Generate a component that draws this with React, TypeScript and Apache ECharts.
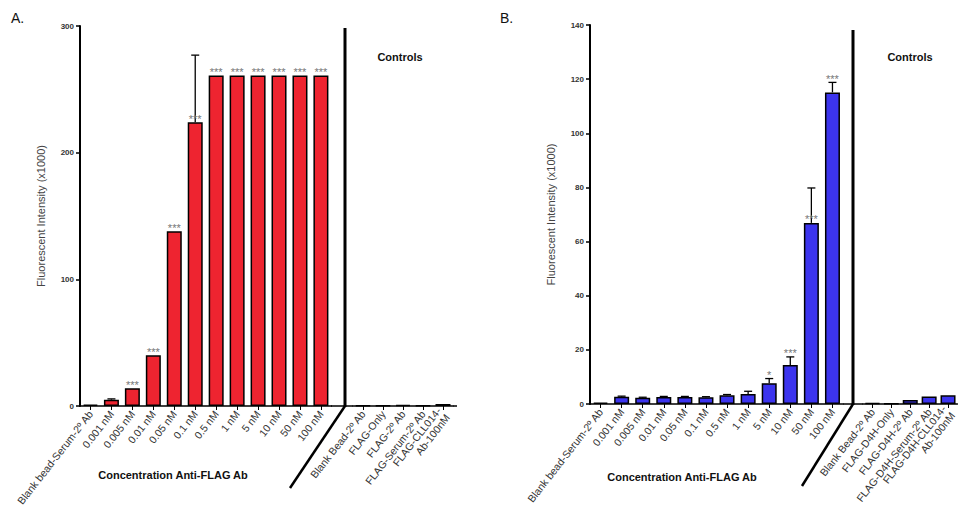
import React, { useEffect, useRef } from "react";
import * as echarts from "echarts";

const catsMain = ["Blank bead-Serum-2º Ab", "0.001 nM", "0.005 nM", "0.01 nM", "0.05 nM", "0.1 nM", "0.5 nM", "1 nM", "5 nM", "10 nM", "50 nM", "100 nM"];
const ctrlCatsA = ["Blank Bead-2º Ab", "FLAG-Only", "FLAG-2º Ab", "FLAG-Serum-2º Ab", "FLAG-CLL014-\nAb-100nM"];
const ctrlCatsB = ["Blank Bead-2º Ab", "FLAG-D4H-Only", "FLAG-D4H-2º Ab", "FLAG-D4H-Serum-2º Ab", "FLAG-D4H-CLL014-\nAb-100nM"];

const valuesA = [1, 5, 14, 40, 138, 224, 261, 261, 261, 261, 261, 261];
const errA = [0, 0.6, 0, 0, 0, 53, 0, 0, 0, 0, 0, 0];
const starsA = ["", "", "***", "***", "***", "***", "***", "***", "***", "***", "***", "***"];
const ctrlValsA = [0.4, 0.3, 0.9, 0.3, 1.6];

const valuesB = [0.5, 2.7, 2.3, 2.6, 2.6, 2.5, 3.2, 3.7, 7.7, 14.4, 66.9, 115.1];
const errB = [0, 0.2, 0.2, 0.2, 0.2, 0.2, 0.3, 1.0, 1.7, 3.0, 12.9, 3.7];
const starsB = ["", "", "", "", "", "", "", "", "*", "***", "***", "***"];
const ctrlValsB = [0.3, 0.1, 1.5, 2.8, 3.2];

const yTicksA = { min: 0, max: 300, interval: 100 };
const yTicksB = { min: 0, max: 140, interval: 20 };

const FONT = "Liberation Sans, Arial, sans-serif";
const RED = "#ee2430";
const BLUE = "#3c34ee";

function errSeries(xIdx: number, vals: number[], errs: number[], stars: string[]) {
  return {
    type: "custom",
    xAxisIndex: xIdx,
    yAxisIndex: xIdx,
    z: 5,
    data: vals.map((v, i) => [i, v, errs[i]]),
    renderItem: (params: any, api: any) => {
      const i = api.value(0);
      const v = api.value(1);
      const e = api.value(2);
      const base = api.coord([i, v]);
      const top = api.coord([i, v + e]);
      const children: any[] = [];
      if (e > 0) {
        children.push({
          type: "line",
          shape: { x1: base[0], y1: base[1], x2: top[0], y2: top[1] },
          style: { stroke: "#000", lineWidth: 1.3 },
        });
        children.push({
          type: "line",
          shape: { x1: top[0] - 4, y1: top[1], x2: top[0] + 4, y2: top[1] },
          style: { stroke: "#000", lineWidth: 1.3 },
        });
      }
      const s = stars[params.dataIndex];
      if (s) {
        const anchorY = e > 10 ? base[1] : top[1];
        children.push({
          type: "text",
          x: base[0],
          y: anchorY + 2,
          style: {
            text: s,
            fill: "#777",
            font: `11px ${FONT}`,
            textAlign: "center",
            textVerticalAlign: "bottom",
          },
        });
      }
      return { type: "group", children };
    },
  };
}

export default function App() {
  const ref = useRef<HTMLDivElement>(null);
  useEffect(() => {
    if (!ref.current) return;
    const chart = echarts.init(ref.current, null, { renderer: "svg" });
    const xLabel = {
      rotate: 52,
      fontSize: 10.5,
      color: "#333",
      margin: 6,
      interval: 0,
      lineHeight: 11,
      fontFamily: FONT,
    };
    const xAxisBase = (gridIndex: number, data: string[]) => ({
      type: "category",
      gridIndex,
      data,
      axisLine: { show: true, lineStyle: { color: "#000", width: 1.5 } },
      axisTick: { show: true, alignWithLabel: true, length: 4, lineStyle: { color: "#000", width: 1 } },
      axisLabel: xLabel,
    });
    const yAxisVisible = (gridIndex: number, t: any) => ({
      type: "value",
      gridIndex,
      ...t,
      name: "Fluorescent Intensity (x1000)",
      nameLocation: "middle",
      nameGap: 34,
      nameTextStyle: { fontSize: 11, color: "#444", fontFamily: FONT },
      axisLine: { show: true, lineStyle: { color: "#000", width: 2 } },
      axisTick: { show: true, length: 4, lineStyle: { color: "#000", width: 1.5 } },
      axisLabel: { fontSize: 8, color: "#333", fontWeight: "bold", margin: 6, fontFamily: FONT },
      splitLine: { show: false },
    });
    const yAxisHidden = (gridIndex: number, t: any) => ({
      type: "value",
      gridIndex,
      ...t,
      show: false,
      splitLine: { show: false },
    });
    const barSeries = (idx: number, data: number[], color: string) => ({
      type: "bar",
      xAxisIndex: idx,
      yAxisIndex: idx,
      data,
      barWidth: 15,
      itemStyle: { color, borderColor: "#000", borderWidth: 1.5 },
    });
    const line = (x1: number, y1: number, x2: number, y2: number, w: number) => ({
      type: "line",
      shape: { x1, y1, x2, y2 },
      style: { stroke: "#000", lineWidth: w },
      z: 10,
    });
    const txt = (x: number, y: number, text: string, font: string, align = "center") => ({
      type: "text",
      x,
      y,
      style: { text, font, fill: "#111", textAlign: align, textVerticalAlign: "middle" },
      z: 10,
    });

    chart.setOption({
      animation: false,
      grid: [
        { left: 80, top: 26, width: 251.4, height: 380 },
        { left: 353, top: 26, width: 100, height: 380 },
        { left: 590, top: 25, width: 253, height: 379 },
        { left: 863, top: 25, width: 100, height: 379 },
      ],
      xAxis: [
        xAxisBase(0, catsMain),
        xAxisBase(1, ctrlCatsA),
        xAxisBase(2, catsMain),
        xAxisBase(3, ctrlCatsB),
      ],
      yAxis: [
        yAxisVisible(0, yTicksA),
        yAxisHidden(1, yTicksA),
        yAxisVisible(2, yTicksB),
        yAxisHidden(3, yTicksB),
      ],
      series: [
        barSeries(0, valuesA, RED),
        barSeries(1, ctrlValsA, RED),
        barSeries(2, valuesB, BLUE),
        barSeries(3, ctrlValsB, BLUE),
        errSeries(0, valuesA, errA, starsA),
        errSeries(2, valuesB, errB, starsB),
      ],
      graphic: [
        line(331, 406, 353, 406, 1.5),
        line(453, 406, 457, 406, 1.5),
        line(345, 28, 345, 407, 3),
        line(345, 406, 290, 488, 2.5),
        line(843, 404, 863, 404, 1.5),
        line(853, 30, 853, 405, 3),
        line(853, 404, 802, 486, 2.5),
        txt(11, 18, "A.", `14px ${FONT}`, "left"),
        txt(500, 18, "B.", `14px ${FONT}`, "left"),
        txt(400, 57, "Controls", `bold 11px ${FONT}`),
        txt(910, 57, "Controls", `bold 11px ${FONT}`),
        txt(173, 475, "Concentration Anti-FLAG Ab", `bold 11px ${FONT}`),
        txt(682, 477, "Concentration Anti-FLAG Ab", `bold 11px ${FONT}`),
      ],
    });
    return () => chart.dispose();
  }, []);
  return <div ref={ref} style={{ position: "absolute", left: 0, top: 0, width: 958, height: 514, background: "#fff" }} />;
}
